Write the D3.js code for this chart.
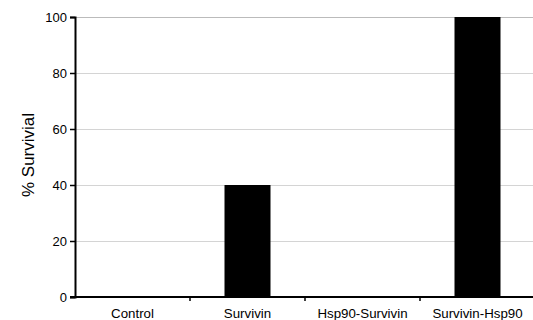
<!DOCTYPE html>
<html><head><meta charset="utf-8">
<script src="https://cdn.jsdelivr.net/npm/d3@7"></script>
<style>body{margin:0;background:#fff}svg{display:block}text{font-family:"Liberation Sans",Arial,sans-serif}</style>
</head><body>
<script>
const categories = ["Control","Survivin","Hsp90-Survivin","Survivin-Hsp90"];
const survival = [0,40,0,100];
const yTicks = [0,20,40,60,80,100];
const yLabel = "% Survivial";

const W=533,H=320;
const m={left:75,top:17,right:-2,bottom:23};
const svg=d3.select("body").append("svg").attr("width",W).attr("height",H);
const x=d3.scaleBand().domain(categories).range([m.left,W-m.right]).padding(0);
const y=d3.scaleLinear().domain([0,100]).range([H-m.bottom,m.top]);

// gridlines
svg.append("g").selectAll("line").data(yTicks.filter(d=>d>0)).join("line")
 .attr("x1",m.left).attr("x2",W).attr("y1",d=>y(d)).attr("y2",d=>y(d))
 .attr("stroke",d=>d===100?"#bbb":"#d4d4d4").attr("stroke-width",1).attr("shape-rendering","crispEdges");

// bars
const bw=x.bandwidth()*0.4;
svg.append("g").selectAll("rect").data(categories.map((c,i)=>({c,v:survival[i]})).filter(d=>d.v>0)).join("rect")
 .attr("x",d=>x(d.c)+(x.bandwidth()-bw)/2).attr("width",bw)
 .attr("y",d=>y(d.v)).attr("height",d=>y(0)-y(d.v)).attr("fill","#000");

// y axis
const ya=svg.append("g").attr("transform",`translate(${m.left},0)`)
 .call(d3.axisLeft(y).tickValues(yTicks).tickSize(5).tickPadding(3));
ya.select(".domain").attr("stroke-width",2);
ya.selectAll(".tick line").attr("stroke-width",1.5);
ya.selectAll("text").attr("font-size",13).attr("fill","#000");

// x axis
const xa=svg.append("g").attr("transform",`translate(0,${y(0)})`);
xa.append("line").attr("x1",m.left-5).attr("x2",W).attr("y1",0).attr("y2",0).attr("stroke","#000").attr("stroke-width",2);
const bounds=categories.slice(1).map(c=>x(c));
xa.selectAll("line.t").data(bounds).join("line").attr("class","t")
 .attr("x1",d=>d).attr("x2",d=>d).attr("y1",0).attr("y2",4).attr("stroke","#000").attr("stroke-width",1.5);
xa.selectAll("text").data(categories).join("text")
 .attr("x",d=>x(d)+x.bandwidth()/2).attr("y",20.5).attr("text-anchor","middle")
 .attr("font-size",13.3).attr("fill","#000").text(d=>d);

svg.append("text").attr("transform",`translate(33.5,155) rotate(-90)`)
 .attr("text-anchor","middle").attr("font-size",17).text(yLabel);
</script>
</body></html>
